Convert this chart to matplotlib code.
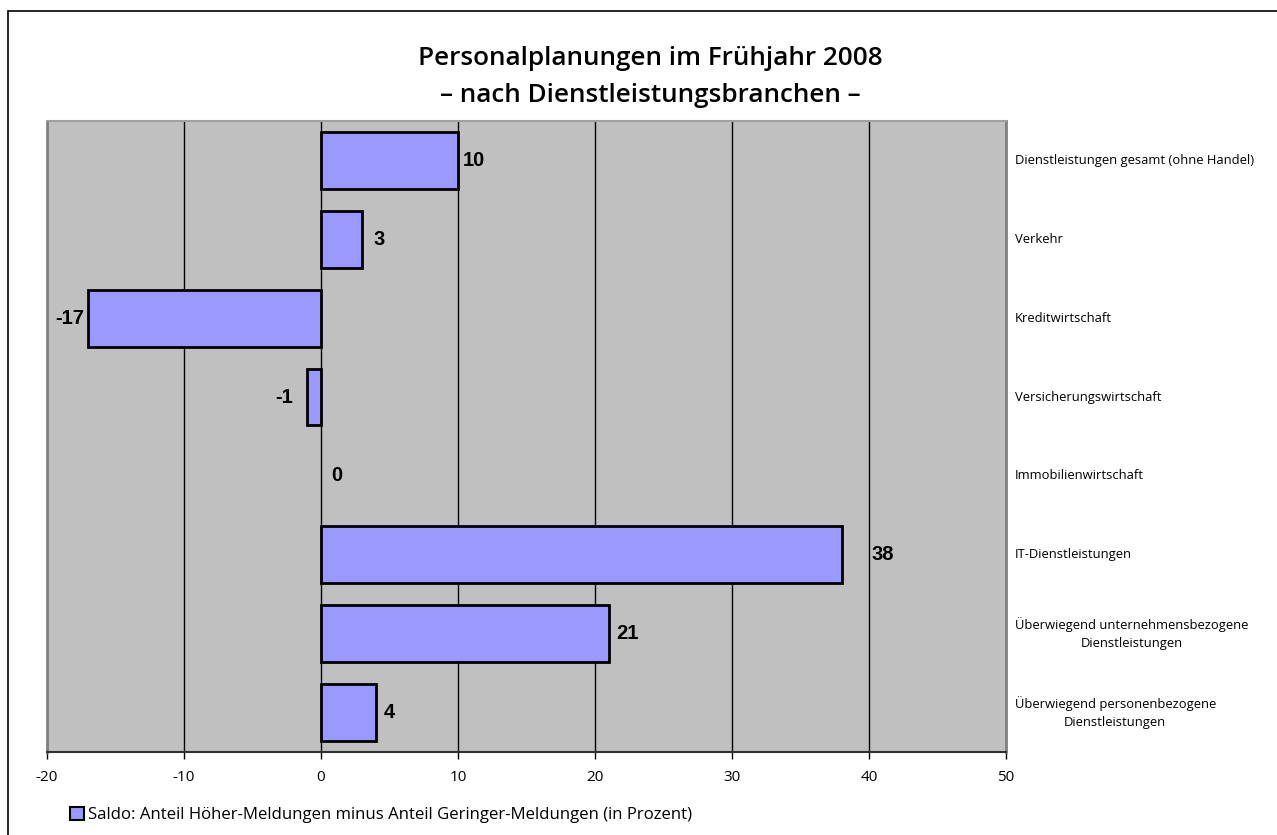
import matplotlib.pyplot as plt
from matplotlib.patches import Rectangle, Patch

# Daten
categories = [
    "Dienstleistungen gesamt (ohne Handel)",
    "Verkehr",
    "Kreditwirtschaft",
    "Versicherungswirtschaft",
    "Immobilienwirtschaft",
    "IT-Dienstleistungen",
    "Überwiegend unternehmensbezogene\nDienstleistungen",
    "Überwiegend personenbezogene\nDienstleistungen",
]
saldo = [10, 3, -17, -1, 0, 38, 21, 4]
x_ticks = [-20, -10, 0, 10, 20, 30, 40, 50]

title = "Personalplanungen im Frühjahr 2008\n– nach Dienstleistungsbranchen –"
legend_label = "Saldo: Anteil Höher-Meldungen minus Anteil Geringer-Meldungen (in Prozent)"

# Abstand der Wertbeschriftungen (Pixel) wie im Original
label_gap = [5, 11, 4, 14, 10, 30, 8, 8]

bar_color = "#9999FF"
bg_color = "#C0C0C0"
font = "Open Sans"

fig = plt.figure(figsize=(12.77, 8.35), dpi=100)
ax = fig.add_axes([47 / 1277, 1 - 752 / 835, (1006 - 47) / 1277, (752 - 121) / 835])
ax.set_facecolor(bg_color)

# äußerer Rahmen (nur links/oben sichtbar)
fig.patches.append(Rectangle((8 / 1277, -0.1), 1.2, 1 - 11 / 835 + 0.1,
                             transform=fig.transFigure, fill=False,
                             edgecolor="black", linewidth=1.2))

ypos = list(range(len(categories)))
edge_widths = [2 if v != 0 else 0 for v in saldo]
ax.barh(ypos, saldo, height=0.72, color=bar_color, edgecolor="black",
        linewidth=edge_widths, zorder=3)

for y, v, gap in zip(ypos, saldo, label_gap):
    if v < 0:
        ax.annotate(str(v), (v, y), xytext=(-gap, 0), textcoords="offset pixels",
                    ha="right", va="center", fontsize=14.5, fontweight="bold",
                    family="Liberation Sans", zorder=4)
    else:
        ax.annotate(str(v), (v, y), xytext=(gap, 0), textcoords="offset pixels",
                    ha="left", va="center", fontsize=14.5, fontweight="bold",
                    family="Liberation Sans", zorder=4)

ax.set_xlim(-20, 50)
ax.set_ylim(len(categories) - 0.5, -0.5)
ax.set_xticks(x_ticks)
ax.set_xticklabels([str(t) for t in x_ticks], family=font, fontsize=11)
ax.tick_params(axis="x", direction="out", length=5, width=1, pad=8, colors="black")
ax.xaxis.grid(True, color="black", linewidth=1, zorder=1)
ax.set_axisbelow(True)

ax.set_yticks([])
for y, cat in zip(ypos, categories):
    ax.text(1.009, y, cat, transform=ax.get_yaxis_transform(), ha="left",
            va="center", multialignment="center", fontsize=9.4, family=font,
            linespacing=1.5)

for side in ["left", "right"]:
    ax.spines[side].set_color("#808080")
    ax.spines[side].set_linewidth(2)
ax.spines["top"].set_color("#A0A0A0")
ax.spines["top"].set_linewidth(1.5)
ax.spines["bottom"].set_color("#303030")
ax.spines["bottom"].set_linewidth(1.5)

fig.text(650 / 1277, 1 - 77 / 835, title, ha="center", va="center",
         fontsize=18.8, fontweight="semibold", family=font, linespacing=1.62)

handle = Patch(facecolor=bar_color, edgecolor="black", linewidth=1.5)
fig.legend([handle], [legend_label], loc="center left",
           bbox_to_anchor=(55 / 1277, 1 - 815 / 835), frameon=False,
           handlelength=0.85, handleheight=0.85, handletextpad=0.2,
           prop={"family": font, "size": 12.1})

fig.savefig("out.png", dpi=100)
